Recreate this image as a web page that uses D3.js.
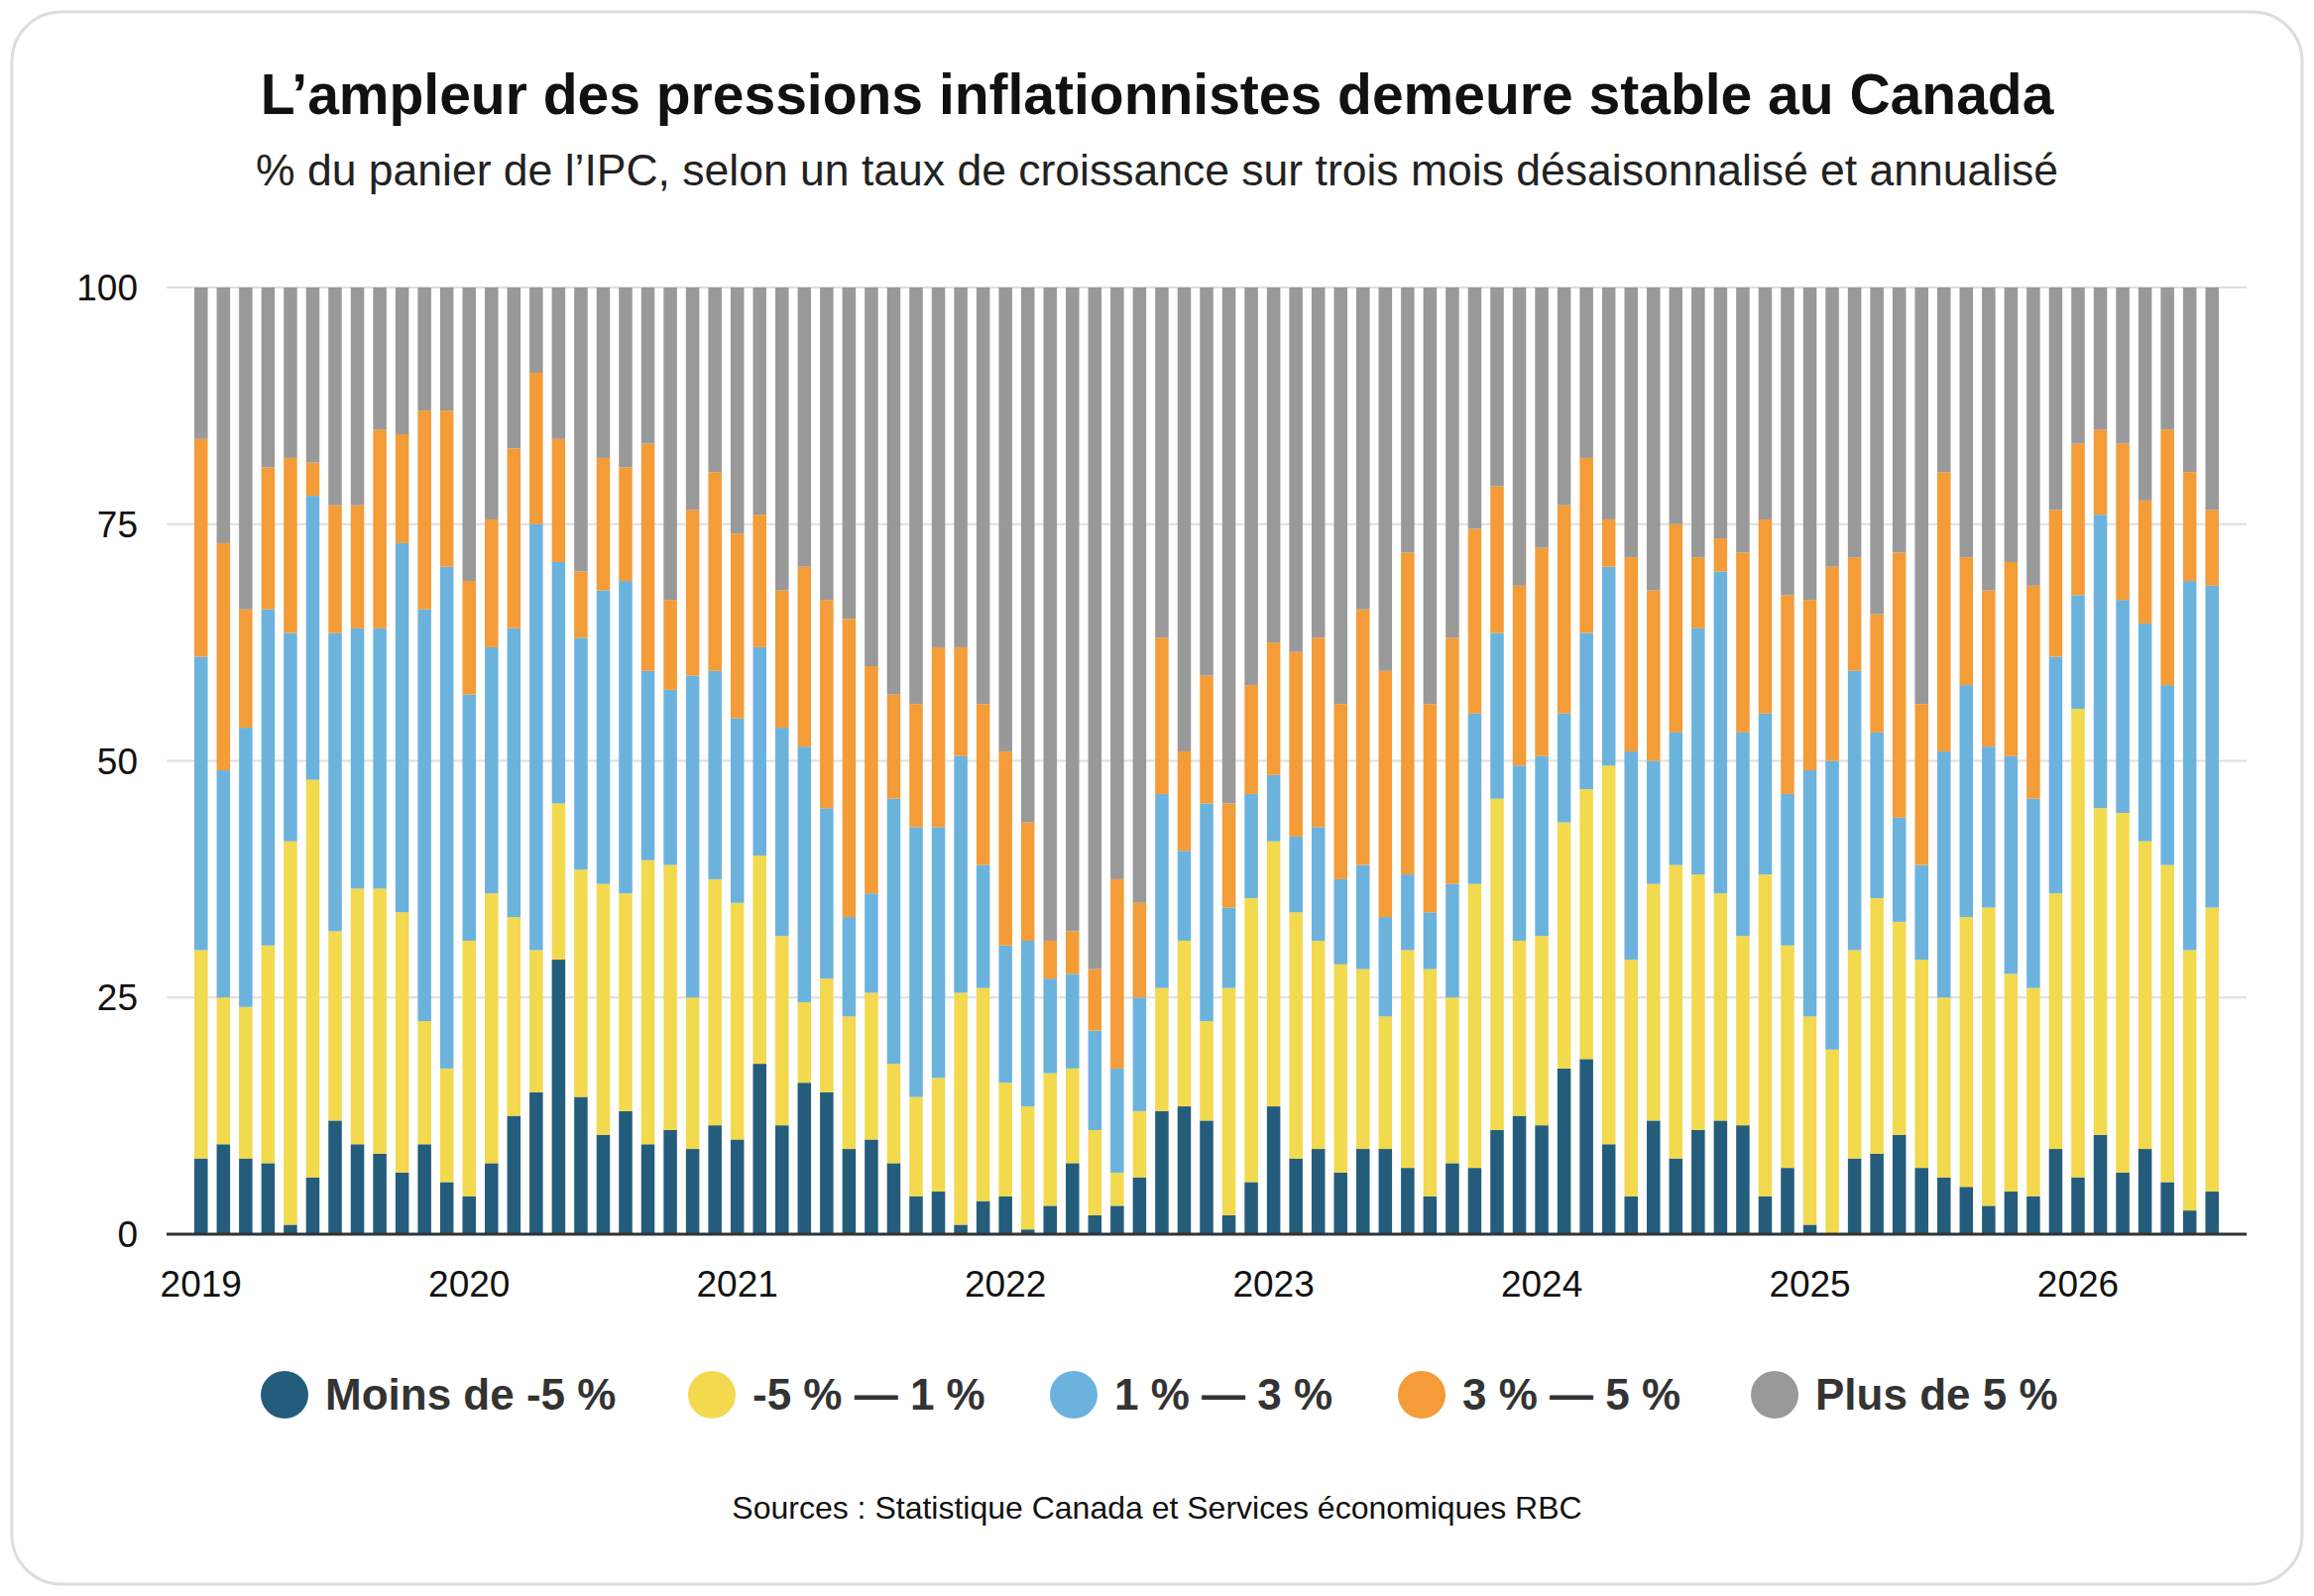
<!DOCTYPE html>
<html><head><meta charset="utf-8">
<script src="https://cdn.jsdelivr.net/npm/d3@7"></script>
<style>body{margin:0;background:#fff;font-family:"Liberation Sans",Arial,sans-serif}</style>
</head><body><svg id="c" width="2334" height="1610"></svg>
<script>
const years = ["2019","2020","2021","2022","2023","2024","2025","2026"];
const seriesNames = ["Moins de -5 %","-5 % — 1 %","1 % — 3 %","3 % — 5 %","Plus de 5 %"];
const colors = ["#245d7c","#f2d94e","#6bb3dd","#f39c38","#999999"];
const yTicks = [0,25,50,75,100];
// cumulative tops of each band (stacked), one value per month Jan 2019 - Jul 2026
const topMoins = [8,9.5,8,7.5,1,6,12,9.5,8.5,6.5,9.5,5.5, 4,7.5,12.5,15,29,14.5,10.5,13,9.5,11,9,11.5, 10,18,11.5,16,15,9,10,7.5,4,4.5,1,3.5, 4,0.5,3,7.5,2,3,6,13,13.5,12,2,5.5, 13.5,8,9,6.5,9,9,7,4,7.5,7,11,12.5, 11.5,17.5,18.5,9.5,4,12,8,11,12,11.5,4,7, 1,0,8,8.5,10.5,7,6,5,3,4.5,4,9, 6,10.5,6.5,9,5.5,2.5,4.5];
const topJaune = [30,25,24,30.5,41.5,48,32,36.5,36.5,34,22.5,17.5, 31,36,33.5,30,45.5,38.5,37,36,39.5,39,25,37.5, 35,40,31.5,24.5,27,23,25.5,18,14.5,16.5,25.5,26, 16,13.5,17,17.5,11,6.5,13,26,31,22.5,26,35.5, 41.5,34,31,28.5,28,23,30,28,25,37,46,31, 31.5,43.5,47,49.5,29,37,39,38,36,31.5,38,30.5, 23,19.5,30,35.5,33,29,25,33.5,34.5,27.5,26,36, 55.5,45,44.5,41.5,39,30,34.5];
const topBleu = [61,49,53.5,66,63.5,78,63.5,64,64,73,66,70.5, 57,62,64,75,71,63,68,69,59.5,57.5,59,59.5, 54.5,62,53.5,51.5,45,33.5,36,46,43,43,50.5,39, 30.5,31,27,27.5,21.5,17.5,25,46.5,40.5,45.5,34.5,46.5, 48.5,42,43,37.5,39,33.5,38,34,37,55,63.5,49.5, 50.5,55,63.5,70.5,51,50,53,64,70,53,55,46.5, 49,50,59.5,53,44,39,51,58,51.5,50.5,46,61, 67.5,76,67,64.5,58,69,68.5];
const topOrange = [84,73,66,81,82,81.5,77,77,85,84.5,87,87, 69,75.5,83,91,84,70,82,81,83.5,67,76.5,80.5, 74,76,68,70.5,67,65,60,57,56,62,62,56, 51,43.5,31,32,28,37.5,35,63,51,59,45.5,58, 62.5,61.5,63,56,66,59.5,72,56,63,74.5,79,68.5, 72.5,77,82,75.5,71.5,68,75,71.5,73.5,72,75.5,67.5, 67,70.5,71.5,65.5,72,56,80.5,71.5,68,71,68.5,76.5, 83.5,85,83.5,77.5,85,80.5,76.5];
const tops = [topMoins, topJaune, topBleu, topOrange, topMoins.map(()=>100)];

const svg = d3.select("#c");
svg.append("rect").attr("x",12).attr("y",12).attr("width",2310).attr("height",1586)
  .attr("rx",50).attr("fill","#fff").attr("stroke","#dddddd").attr("stroke-width",3);
svg.append("text").attr("x",1167).attr("y",115).attr("text-anchor","middle")
  .attr("font-size",57).attr("font-weight","bold").attr("fill","#111")
  .text("L’ampleur des pressions inflationnistes demeure stable au Canada");
svg.append("text").attr("x",1167).attr("y",187).attr("text-anchor","middle")
  .attr("font-size",44.5).attr("fill","#222")
  .text("% du panier de l’IPC, selon un taux de croissance sur trois mois désaisonnalisé et annualisé");

const n = topMoins.length;
const x = d3.scaleBand().domain(d3.range(n)).range([187,2247]).padding(0.4);
const y = d3.scaleLinear().domain([0,100]).range([1245,290]);

svg.append("g").selectAll("line").data(yTicks).join("line")
  .attr("x1",168).attr("x2",2266).attr("y1",d=>y(d)).attr("y2",d=>y(d))
  .attr("stroke","#dedede").attr("stroke-width",2);
svg.append("g").selectAll("text").data(yTicks).join("text")
  .attr("x",139).attr("y",d=>y(d)+13).attr("text-anchor","end")
  .attr("font-size",37).attr("fill","#111").text(d=>d);

tops.forEach((arr,s)=>{
  svg.append("g").selectAll("rect").data(arr).join("rect")
    .attr("x",(d,i)=>x(i)).attr("width",x.bandwidth())
    .attr("y",d=>y(d))
    .attr("height",(d,i)=>y(s===0?0:tops[s-1][i]) - y(d))
    .attr("fill",colors[s]);
});
svg.append("line").attr("x1",168).attr("x2",2266).attr("y1",y(0)).attr("y2",y(0))
  .attr("stroke","#333").attr("stroke-width",3);
svg.append("g").selectAll("text").data(years).join("text")
  .attr("x",(d,i)=>x(i*12)+x.bandwidth()/2).attr("y",1308).attr("text-anchor","middle")
  .attr("font-size",37).attr("fill","#111").text(d=>d);

const legX = [287,718,1083,1434,1790];
const lg = svg.append("g").selectAll("g").data(seriesNames).join("g")
  .attr("transform",(d,i)=>`translate(${legX[i]},1407)`);
lg.append("circle").attr("r",24).attr("fill",(d,i)=>colors[i]);
lg.append("text").attr("x",41).attr("y",15).attr("font-size",44).attr("font-weight","bold")
  .attr("fill","#333").text(d=>d);

svg.append("text").attr("x",1167).attr("y",1532).attr("text-anchor","middle")
  .attr("font-size",32).attr("fill","#111")
  .text("Sources : Statistique Canada et Services économiques RBC");
</script></body></html>
